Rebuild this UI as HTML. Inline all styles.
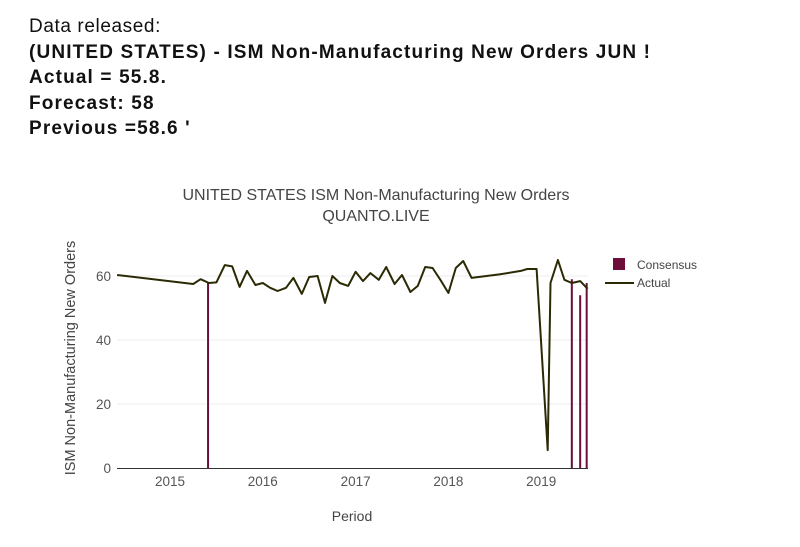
<!DOCTYPE html>
<html><head><meta charset="utf-8"><style>
body{margin:0;width:800px;height:547px;background:#fff;overflow:hidden;font-family:"Liberation Sans","DejaVu Sans",sans-serif}
#hdr{position:absolute;left:29px;top:14px;font-size:19px;line-height:25.5px;color:#111;letter-spacing:0.6px}
#hdr b{font-weight:bold;letter-spacing:1.15px}
svg{position:absolute;left:0;top:0}
</style></head><body>
<div id="hdr">
<div>Data released:</div>
<div><b>(UNITED STATES) - ISM Non-Manufacturing New Orders JUN !</b></div>
<div><b>Actual = 55.8.</b></div>
<div><b>Forecast: 58</b></div>
<div><b>Previous =58.6 '</b></div>
</div>
<svg id="chart" width="800" height="547"></svg>
<script>
const actualDates=[2014.43,2015.25,2015.33,2015.42,2015.5,2015.59,2015.67,2015.75,2015.83,2015.92,2016.0,2016.08,2016.16,2016.25,2016.33,2016.42,2016.5,2016.59,2016.67,2016.75,2016.83,2016.92,2017.0,2017.08,2017.16,2017.25,2017.33,2017.42,2017.5,2017.59,2017.67,2017.75,2017.83,2017.92,2018.0,2018.08,2018.16,2018.25,2018.55,2018.78,2018.85,2018.95,2019.07,2019.1,2019.18,2019.25,2019.33,2019.42,2019.5];
const actualValues=[60.3,57.5,59,57.8,58,63.4,63,56.6,61.6,57.2,57.8,56.3,55.3,56.3,59.4,54.4,59.7,60,51.6,60,57.8,56.9,61.3,58.4,60.9,58.8,62.8,57.5,60.3,55,56.9,62.8,62.5,58.5,54.7,62.5,64.7,59.4,60.5,61.6,62.2,62.2,5.6,57.8,65,58.8,57.8,58.4,56];
const consDates=[2015.41,2019.33,2019.42,2019.49];
const consValues=[57.8,59,54,57.8];
const yTicks=[0,20,40,60];
const xTicks=[2015,2016,2017,2018,2019];
const NS="http://www.w3.org/2000/svg";
const svg=document.getElementById('chart');
const X=d=>170+(d-2015)*92.8;
const Y=v=>468-v*3.2;
function mk(t,a,txt){const e=document.createElementNS(NS,t);for(const k in a)e.setAttribute(k,a[k]);if(txt!==undefined)e.textContent=txt;svg.appendChild(e);return e;}
yTicks.forEach(v=>{
 if(v>0){const g=mk('line',{x1:117,x2:588,y1:Y(v),y2:Y(v),stroke:'#eee','stroke-width':1});
 
 }
 const t=mk('text',{x:111,y:Y(v)+5,'text-anchor':'end','font-size':13.5,fill:'#555'},String(v));
 
 
});
xTicks.forEach(d=>{
 const t=mk('text',{x:X(d),y:486,'text-anchor':'middle','font-size':13.5,fill:'#555'},String(d));
 
 
});
const ax=mk('line',{x1:117,x2:588,y1:468.5,y2:468.5,stroke:'#333','stroke-width':1});


consDates.forEach((d,i)=>{
 const b=mk('line',{x1:X(d),x2:X(d),y1:468,y2:Y(consValues[i]),stroke:'#6b0f3a','stroke-width':2});
 
 
});
const pts=actualDates.map((d,i)=>X(d).toFixed(1)+','+Y(actualValues[i]).toFixed(1)).join(' ');
const pl=mk('polyline',{points:pts,fill:'none',stroke:'#2b2a05','stroke-width':2,'stroke-linejoin':'round'});


const t1=mk('text',{x:376,y:200,'text-anchor':'middle','font-size':16,fill:'#444'},'UNITED STATES ISM Non-Manufacturing New Orders');


const t2=mk('text',{x:376,y:221,'text-anchor':'middle','font-size':16,fill:'#444'},'QUANTO.LIVE');


const xt=mk('text',{x:352,y:521,'text-anchor':'middle','font-size':14,fill:'#444'},'Period');


const yt=mk('text',{x:0,y:0,'text-anchor':'middle','font-size':14.5,fill:'#444',transform:'translate(75,358) rotate(-90)'},'ISM Non-Manufacturing New Orders');


const l1=mk('rect',{x:613,y:258,width:12,height:12,fill:'#6b0f3a'});


const l1t=mk('text',{x:637,y:269,'font-size':12,fill:'#444'},'Consensus');


const l2=mk('line',{x1:605,x2:634,y1:283,y2:283,stroke:'#2b2a05','stroke-width':2});


const l2t=mk('text',{x:637,y:287,'font-size':12,fill:'#444'},'Actual');


</script>
</body></html>
